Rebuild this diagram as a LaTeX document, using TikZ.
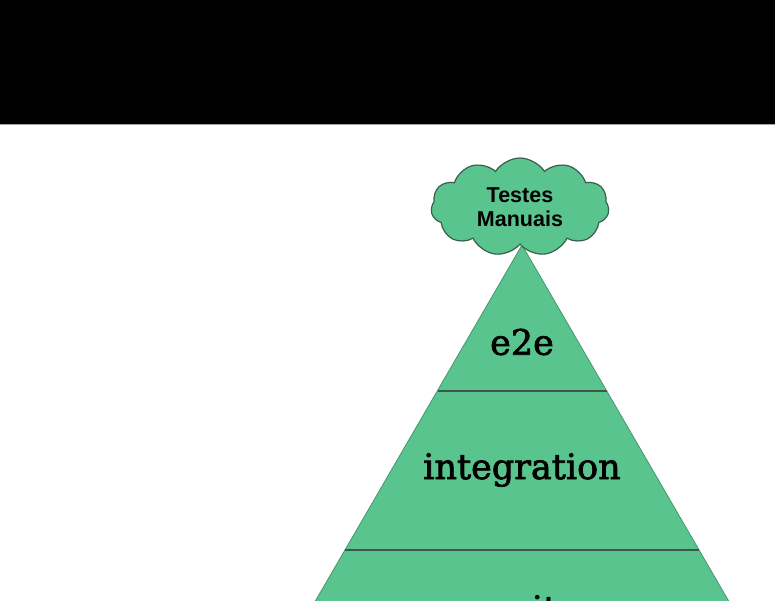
\documentclass[tikz,border=0pt]{standalone}
\usepackage{fontspec}
\setmainfont{DejaVu Serif}
\newfontfamily\layerfont{DejaVu Serif}[RawFeature={embolden=2}]
\newfontfamily\cloudfont{Liberation Sans}
\usetikzlibrary{shapes.symbols}
\definecolor{pyrgreen}{RGB}{90,196,142}
\definecolor{pyredge}{RGB}{70,150,110}
\definecolor{layerline}{RGB}{58,88,74}
\definecolor{cloudedge}{RGB}{55,95,75}
\tikzset{
  layerlabel/.style={font=\layerfont\fontsize{35}{40}\selectfont, text=black, inner sep=0pt},
  layerline/.style={draw=layerline, line width=2pt},
  cloudbox/.style={cloud, cloud puffs=11, cloud puff arc=115, aspect=1.9,
    fill=pyrgreen, draw=cloudedge, line width=1.2pt,
    minimum width=178pt, minimum height=98pt, inner sep=0pt,
    align=center, font=\cloudfont\bfseries\fontsize{21.5}{24.5}\selectfont}
}
\begin{document}
\begin{tikzpicture}[x=1pt,y=-1pt]
  \useasboundingbox (0,0) rectangle (775,600);
  \clip (0,0) rectangle (775,600);
  \fill[white] (0,0) rectangle (775,600);
  % header bar
  \fill[black] (0,0) rectangle (775,124);
  \draw[gray!70, line width=1pt] (0,124) -- (775,124);
  % pyramid outline
  \coordinate (apex) at (522,245);
  \coordinate (bl) at (313.6,604);
  \coordinate (br) at (730.4,604);
  \fill[pyrgreen] (apex) -- (bl) -- (br) -- cycle;
  \draw[pyredge, line width=0.8pt] (bl) -- (apex) -- (br);
  % layer separators
  \coordinate (s1l) at (437.5,391);
  \coordinate (s1r) at (606.5,391);
  \coordinate (s2l) at (345.4,550);
  \coordinate (s2r) at (698.6,550);
  \draw[layerline] (s1l) -- (s1r);
  \draw[layerline] (s2l) -- (s2r);
  % layer labels
  \node[layerlabel] (e2e) at (522,342) {e2e};
  \node[layerlabel] (integration) at (522,470) {integration};
  \node[layerlabel, anchor=north] (unit) at (522,595) {unit};
  % manual tests on top
  \node[cloudbox] (manual) at (520,207) {Testes\\Manuais};
\end{tikzpicture}
\end{document}
